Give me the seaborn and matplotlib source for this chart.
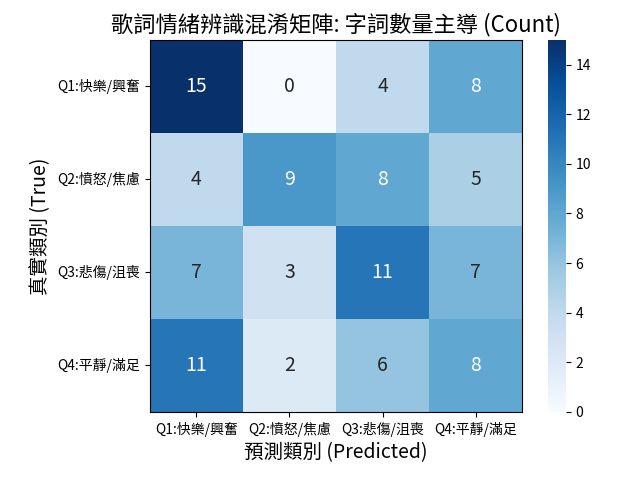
import numpy as np
import seaborn as sns
import matplotlib.pyplot as plt

plt.rcParams['font.family'] = ['Noto Sans CJK TC', 'DejaVu Sans']

labels = ['Q1:快樂/興奮', 'Q2:憤怒/焦慮', 'Q3:悲傷/沮喪', 'Q4:平靜/滿足']
cm = [[15, 0, 4, 8],
      [4, 9, 8, 5],
      [7, 3, 11, 7],
      [11, 2, 6, 8]]

fig = plt.figure(figsize=(6.4, 4.8), dpi=100)
ax = fig.add_axes([0.234, 0.142, 0.582, 0.775])
cax = fig.add_axes([0.856, 0.142, 0.028, 0.775])
sns.heatmap(np.array(cm), annot=True, fmt='d', cmap='Blues',
            xticklabels=labels, yticklabels=labels,
            annot_kws={'size': 14}, ax=ax, cbar_ax=cax)
for s in ax.spines.values():
    s.set_visible(True)
    s.set_linewidth(0.8)
ax.tick_params(axis='both', labelsize=10)
cax.tick_params(labelsize=10)
plt.setp(ax.get_yticklabels(), rotation=0)
ax.set_title('歌詞情緒辨識混淆矩陣: 字詞數量主導 (Count)', fontsize=16)
ax.set_xlabel('預測類別 (Predicted)', fontsize=14)
ax.set_ylabel('真實類別 (True)', fontsize=14)
plt.savefig('out.png')
